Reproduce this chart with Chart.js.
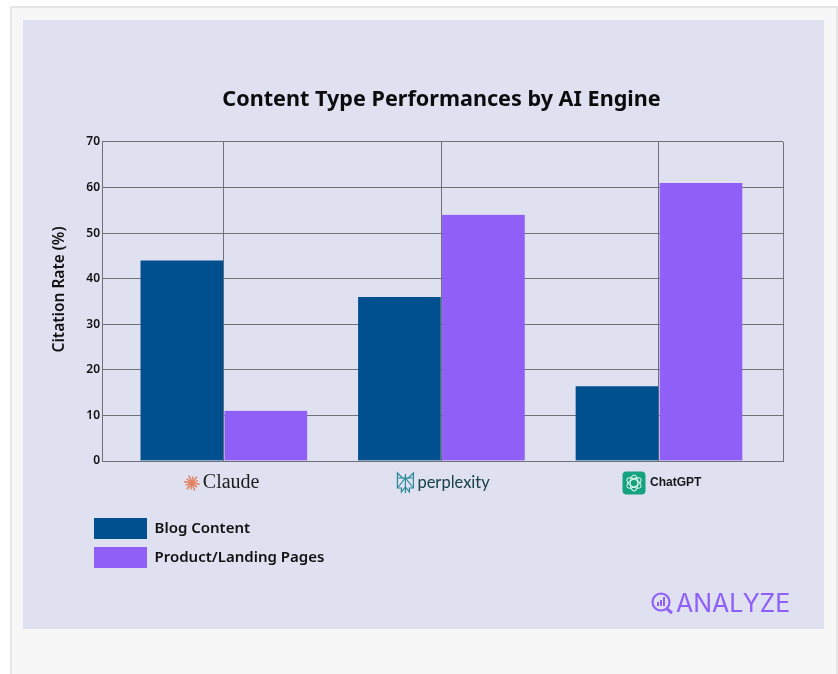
<!DOCTYPE html>
<html>
<head>
<meta charset="utf-8">
<title>Content Type Performances by AI Engine</title>
<script src="https://cdn.jsdelivr.net/npm/chart.js@4"></script>
<style>
    html, body { margin: 0; padding: 0; background: #ffffff; }
    body { position: relative; width: 838px; height: 674px; overflow: hidden; }
    #frame { position: absolute; left: 10px; top: 6px; width: 824px; height: 680px; background: #f7f7f7; border: 2px solid #e6e6e6; }
    #panel { position: absolute; left: 23px; top: 20px; width: 801px; height: 609px; background: #dfe0f0; }
    canvas { position: absolute; left: 0; top: 0; }
</style>
</head>
<body>
<div id="frame"></div>
<div id="panel"></div>
<canvas id="chart" width="838" height="674"></canvas>
<script>
const categories = ['Claude', 'perplexity', 'ChatGPT'];
const blogContent = [44, 36, 16.4];
const productPages = [11, 54, 61];
const yTicks = [0, 10, 20, 30, 40, 50, 60, 70];

const BLUE = '#00508f';
const PURPLE = '#8f5ff8';
const GRID = '#6f7078';
const FONT = '"Noto Sans", sans-serif';

// les logos du bas : texte + petite icone, decales par rapport au tick
function drawClaudeIcon(ctx, x, y) {
    ctx.strokeStyle = '#e2805f';
    ctx.lineWidth = 1.5;
    for (let i = 0; i < 12; i++) {
        const a = i * Math.PI / 6 + 0.15;
        const r = i % 2 ? 6.5 : 8;
        ctx.beginPath();
        ctx.moveTo(x, y);
        ctx.lineTo(x + Math.cos(a) * r, y + Math.sin(a) * r);
        ctx.stroke();
    }
}

function drawPerplexityIcon(ctx, x, y) {
    ctx.strokeStyle = '#2b8a98';
    ctx.lineWidth = 1.2;
    ctx.lineJoin = 'miter';
    const paths = [
        [[-8, -5], [-3, -5], [-8, -10], [-8, -5]],
        [[8, -5], [3, -5], [8, -10], [8, -5]],
        [[-3, -5], [3, -5]],
        [[-8, -5], [-8, 5], [-4, 5], [-4, 9], [0, 4], [4, 9], [4, 5], [8, 5], [8, -5]],
        [[0, -9], [0, 10]],
        [[-8, 5], [0, -5], [8, 5]]
    ];
    paths.forEach(p => {
        ctx.beginPath();
        p.forEach((pt, i) => i ? ctx.lineTo(x + pt[0], y + pt[1]) : ctx.moveTo(x + pt[0], y + pt[1]));
        ctx.stroke();
    });
}

function drawChatGptIcon(ctx, x, y) {
    ctx.fillStyle = '#14a27f';
    ctx.beginPath();
    ctx.roundRect(x - 11.5, y - 11.5, 23, 23, 4);
    ctx.fill();
    ctx.strokeStyle = '#d9f2ea';
    ctx.lineWidth = 1.1;
    for (let i = 0; i < 3; i++) {
        ctx.beginPath();
        ctx.ellipse(x, y, 8, 3.8, i * Math.PI / 3 + Math.PI / 6, 0, Math.PI * 2);
        ctx.stroke();
    }
}

const logos = [
    { font: '20px "Liberation Serif", serif', color: '#1d1c1a', textDx: -21, iconDx: -32, icon: drawClaudeIcon },
    { font: '16.5px Lato, sans-serif', color: '#17404a', textDx: -24, iconDx: -36, icon: drawPerplexityIcon },
    { font: 'bold 12px "Liberation Sans", sans-serif', color: '#17171a', textDx: -9, iconDx: -25, icon: drawChatGptIcon }
];

const logoPlugin = {
    id: 'logoPlugin',
    beforeLayout(chart) {
        // la legende doit passer sur deux lignes, maxWidth seul ne suffit pas
        const legend = chart.legend;
        if (legend.fit === Object.getPrototypeOf(legend).fit) {
            const fit = legend.fit;
            legend.fit = function () {
                this.maxWidth = 260;
                fit.call(this);
            };
        }
    },
    afterLayout(chart) {
        // titre et legende ne suivent pas le centre du canvas sur l'original
        const t = chart.titleBlock;
        t.left += 25; t.right += 25;
        const l = chart.legend;
        l.width = 260;
        l.left = 86; l.right = 86 + l.width;
        l.top = 510; l.bottom = l.top + l.height;
    },
    afterDraw(chart) {
        const { ctx, scales } = chart;
        ctx.save();
        ctx.textBaseline = 'middle';
        categories.forEach((name, i) => {
            const px = scales.x.getPixelForValue(i);
            const logo = logos[i];
            ctx.save();
            logo.icon(ctx, px + logo.iconDx, 483);
            ctx.restore();
            ctx.font = logo.font;
            ctx.fillStyle = logo.color;
            ctx.textAlign = 'left';
            ctx.fillText(name, px + logo.textDx, 483);
        });

        // titre de l'axe y : plus haut que le centre du graphique sur l'original
        ctx.save();
        ctx.translate(60, 289.5);
        ctx.rotate(-Math.PI / 2);
        ctx.font = '600 15.5px ' + FONT;
        ctx.fillStyle = '#111111';
        ctx.textAlign = 'center';
        ctx.fillText('Citation Rate (%)', 0, 0);
        ctx.restore();

        // watermark
        ctx.fillStyle = PURPLE;
        ctx.font = '25px Inter, sans-serif';
        ctx.textAlign = 'left';
        ctx.fillText('ANALYZE', 676, 604);
        ctx.strokeStyle = PURPLE;
        ctx.lineWidth = 2.2;
        ctx.beginPath();
        ctx.arc(661, 602, 8.5, 0, Math.PI * 2);
        ctx.stroke();
        ctx.lineWidth = 3;
        ctx.beginPath();
        ctx.moveTo(667, 609);
        ctx.lineTo(672, 613);
        ctx.stroke();
        ctx.fillRect(657, 602, 2, 4);
        ctx.fillRect(660, 600, 2, 6);
        ctx.fillRect(663, 597, 2, 9);
        ctx.restore();
    }
};

new Chart(document.getElementById('chart'), {
    type: 'bar',
    data: {
        datasets: [
            {
                label: 'Blog Content',
                data: blogContent.map((v, i) => ({ x: i, y: v })),
                backgroundColor: BLUE,
                borderColor: 'transparent',
                borderWidth: { left: 1, right: 1, top: 0, bottom: 0 },
                barThickness: 84
            },
            {
                label: 'Product/Landing Pages',
                data: productPages.map((v, i) => ({ x: i, y: v })),
                backgroundColor: PURPLE,
                borderColor: 'transparent',
                borderWidth: { left: 1, right: 1, top: 0, bottom: 0 },
                barThickness: 84
            }
        ]
    },
    plugins: [logoPlugin],
    options: {
        responsive: false,
        animation: false,
        layout: { padding: { left: 50, right: 55, top: 87, bottom: 145 } },
        scales: {
            x: {
                type: 'linear',
                offset: false,
                min: -0.56,
                max: 2.57,
                grid: { offset: false, color: GRID, tickLength: 0 },
                border: { color: GRID },
                ticks: { stepSize: 1, display: false },
                afterFit(scale) { scale.height = 0; }
            },
            y: {
                min: 0,
                max: 70,
                afterBuildTicks(scale) { scale.ticks = yTicks.map(v => ({ value: v })); },
                grid: { color: GRID, tickLength: 0 },
                border: { color: GRID },
                ticks: { color: '#111111', padding: 2, font: { family: FONT, size: 12, weight: '600' } },
                afterFit(scale) { scale.width = 52; }
            }
        },
        plugins: {
            title: {
                display: true,
                text: 'Content Type Performances by AI Engine',
                color: '#0c0c0f',
                padding: { top: 0, bottom: 29 },
                font: { family: FONT, size: 21.6, weight: '700' }
            },
            legend: {
                position: 'bottom',
                align: 'start',
                maxWidth: 260,
                labels: {
                    boxWidth: 53,
                    boxHeight: 21,
                    padding: 8,
                    color: '#111111',
                    font: { family: FONT, size: 15, weight: '600' }
                }
            },
            tooltip: { enabled: false }
        }
    }
});
</script>
</body>
</html>
